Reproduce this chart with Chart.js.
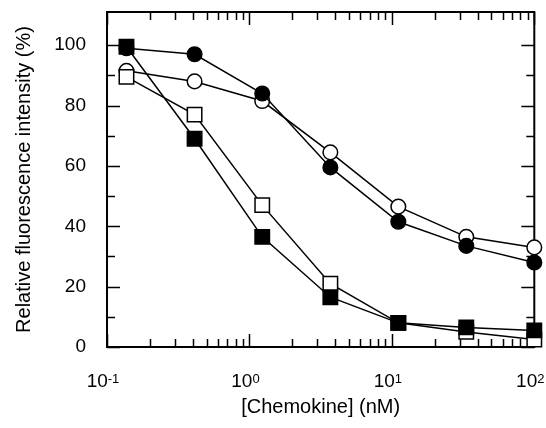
<!DOCTYPE html>
<html>
<head>
<meta charset="utf-8">
<script src="https://cdn.jsdelivr.net/npm/chart.js@4/dist/chart.umd.min.js"></script>
<style>
  html, body { margin: 0; padding: 0; background: #fff; }
  canvas { display: block; }
</style>
</head>
<body>
<canvas id="chart" width="546" height="428"></canvas>
<script>
/* ── Data ─────────────────────────────────────────────────────────────── */
const concentrations = [0.137, 0.412, 1.23, 3.70, 11.1, 33.3, 100];   // nM
const filledCircles  = [99, 97, 84, 59.5, 41.5, 33.5, 28];
const openCircles    = [91.5, 88, 81.5, 64.5, 46.5, 36.5, 33];
const openSquares    = [89.5, 77, 47, 21, 8, 5, 2.5];
const filledSquares  = [99.5, 69, 36.5, 16.5, 8, 6.5, 5.5];

const xDecades   = [0.1, 1, 10, 100];
const xExponents = ['-1', '0', '1', '2'];
const yMajor     = [0, 20, 40, 60, 80, 100];
const yMinor     = [10, 30, 50, 70, 90];

const FONT = '"Liberation Sans", Arial, Helvetica, sans-serif';

/* ── Helpers ──────────────────────────────────────────────────────────── */
function toPoints(ys) {
  return concentrations.map((c, i) => ({ x: c, y: ys[i] }));
}

function serie(ys, style, fill) {
  return {
    data: toPoints(ys),
    showLine: true,
    borderColor: '#000',
    borderWidth: 1.5,
    pointStyle: style,
    pointRadius: style === 'rect' ? 10.2 : 7.3,
    pointBackgroundColor: fill,
    pointBorderColor: '#000',
    pointBorderWidth: 1.5,
    clip: false
  };
}

// frame, inward ticks and superscript x labels
const frameTicks = {
  id: 'frameTicks',
  beforeDatasetsDraw(chart) {
    const { ctx, chartArea: a, scales: { x, y } } = chart;
    ctx.save();
    ctx.strokeStyle = '#000';
    ctx.lineWidth = 1.5;
    ctx.beginPath();

    const tickX = (v, len) => {
      const px = Math.round(x.getPixelForValue(v)) + 0.5;
      ctx.moveTo(px, a.bottom); ctx.lineTo(px, a.bottom - len);
      ctx.moveTo(px, a.top);    ctx.lineTo(px, a.top + len);
    };
    xDecades.forEach((d, i) => {
      tickX(d, 13);
      if (i < xDecades.length - 1) {
        for (let m = 2; m <= 9; m++) tickX(d * m, 8);
      }
    });

    const tickY = (v, len) => {
      const py = Math.round(y.getPixelForValue(v)) + 0.5;
      ctx.moveTo(a.left, py);  ctx.lineTo(a.left + len, py);
      ctx.moveTo(a.right, py); ctx.lineTo(a.right - len, py);
    };
    yMajor.forEach(v => tickY(v, 13));
    yMinor.forEach(v => tickY(v, 8));
    ctx.stroke();

    ctx.lineWidth = 2;
    ctx.strokeRect(a.left, a.top, a.right - a.left, a.bottom - a.top);

    // x tick labels: 10 with superscript exponent
    ctx.fillStyle = '#000';
    ctx.textBaseline = 'alphabetic';
    ctx.textAlign = 'left';
    xDecades.forEach((d, i) => {
      const px = x.getPixelForValue(d);
      ctx.font = '19px ' + FONT;
      const wBase = ctx.measureText('10').width;
      ctx.font = '13px ' + FONT;
      const wExp = ctx.measureText(xExponents[i]).width;
      const left = px - (wBase + wExp) / 2 - 4;
      ctx.font = '19px ' + FONT;
      ctx.fillText('10', left, a.bottom + 40);
      ctx.font = '13px ' + FONT;
      ctx.fillText(xExponents[i], left + wBase, a.bottom + 36);
    });
    ctx.restore();
  }
};

/* ── Chart ────────────────────────────────────────────────────────────── */
new Chart(document.getElementById('chart'), {
  type: 'scatter',
  data: {
    datasets: [
      serie(filledSquares, 'rect', '#000'),
      serie(openSquares, 'rect', '#fff'),
      serie(filledCircles, 'circle', '#000'),
      serie(openCircles, 'circle', '#fff')
    ]
  },
  options: {
    responsive: false,
    animation: false,
    events: [],
    layout: { padding: { left: 0, right: 9, top: 12, bottom: 0 } },
    plugins: { legend: { display: false }, tooltip: { enabled: false } },
    scales: {
      x: {
        type: 'logarithmic',
        min: 0.1,
        max: 100,
        grid: { display: false },
        border: { display: false },
        ticks: { display: false },
        afterBuildTicks: s => { s.ticks = xDecades.map(v => ({ value: v })); },
        afterFit: s => { s.height = 81; s.paddingLeft = 0; s.paddingRight = 0; },
        title: {
          display: true,
          text: '[Chemokine] (nM)',
          color: '#000',
          font: { family: FONT, size: 20 },
          padding: { top: 0, bottom: 9 }
        }
      },
      y: {
        min: 0,
        max: 111,
        grid: { display: false, drawTicks: false },
        border: { display: false },
        ticks: {
          stepSize: 20,
          includeBounds: false,
          padding: 21,
          color: '#000',
          font: { family: FONT, size: 19 }
        },
        afterFit: s => { s.width = 107; s.paddingTop = 0; s.paddingBottom = 0; },
        title: {
          display: true,
          text: 'Relative fluorescence intensity (%)',
          color: '#000',
          font: { family: FONT, size: 20 },
          padding: { top: 12, bottom: 0 }
        }
      }
    }
  },
  plugins: [frameTicks]
});
</script>
</body>
</html>
